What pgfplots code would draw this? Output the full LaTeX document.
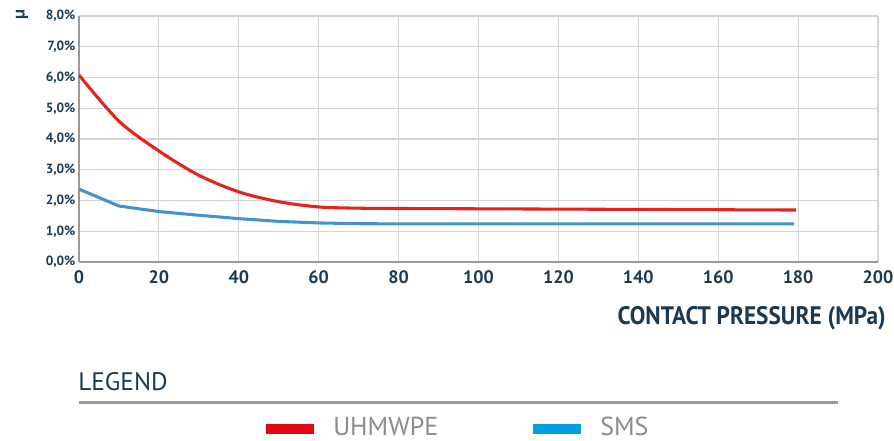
\documentclass[border=0pt]{standalone}
\usepackage{pgfplots}
\pgfplotsset{compat=1.18}
\usepackage{fontspec}
\setmainfont{PT Sans}
\newfontfamily\narrow[FakeStretch=0.92]{PT Sans}
\definecolor{navy}{HTML}{1B3A52}
\definecolor{gridgray}{HTML}{D4D4D4}
\definecolor{axisgray}{HTML}{9A9A9A}
\definecolor{lred}{HTML}{E5231B}
\definecolor{lblue}{HTML}{4593CC}
\definecolor{kred}{HTML}{E30613}
\definecolor{kblue}{HTML}{009FE3}
\definecolor{txtgray}{HTML}{8C8C8C}
\begin{document}
\begin{tikzpicture}[x=0.75pt,y=0.75pt]
\path[use as bounding box] (-79,-179) rectangle (815,262);
\begin{axis}[
    at={(0,0)}, anchor=origin,
    scale only axis,
    width=599.25pt, height=184.5pt,
    xmin=0, xmax=200, ymin=0, ymax=8,
    xtick={0,20,...,200}, ytick={0,1,...,8},
    axis x line=bottom, axis y line=left,
    axis line style={axisgray, line width=1pt, -},
    grid=major,
    major grid style={gridgray, line width=0.9pt},
    tick style={draw=none},
    /pgf/number format/assume math mode=true,
    x tick label style={font=\bfseries\fontsize{13.5}{13.5}\selectfont, text=navy, yshift=-0.5pt},
    y tick label style={font=\bfseries\fontsize{10}{10}\selectfont, text=navy, xshift=3pt},
    yticklabel={\pgfmathprintnumber[fixed, fixed zerofill, precision=1, use comma]{\tick}\%},
]
\addplot[lred, line width=2.3pt, smooth] coordinates {
    (0,6.08) (10,4.58) (20,3.61) (30,2.82) (40,2.28) (50,1.96) (60,1.79)
    (70,1.75) (80,1.74) (100,1.73) (120,1.72) (140,1.71) (160,1.70) (179.5,1.69)
};
\addplot[lblue, line width=2.3pt] coordinates {
    (0,2.37) (10,1.82) (20,1.64) (30,1.52) (40,1.41) (50,1.32) (60,1.27)
    (70,1.245) (80,1.24) (100,1.24) (120,1.24) (140,1.24) (160,1.24) (179,1.24)
};
\end{axis}
% axis symbol
\node[rotate=90, text=navy, font=\bfseries\fontsize{13}{13}\selectfont] at (-57,247) {μ};
% x axis title
\node[anchor=east, text=navy, font=\narrow\bfseries\fontsize{19}{20}\selectfont, inner sep=0pt] at (807,-56.5) {CONTACT PRESSURE (MPa)};
% legend
\node[anchor=west, text=navy, font=\fontsize{19}{20}\selectfont, inner sep=0pt] at (-1,-119.7) {LEGEND};
\draw[axisgray, line width=2.2pt] (0,-140.7) -- (759,-140.7);
\fill[kred] (187,-162) rectangle (235,-172.5);
\node[anchor=west, text=txtgray, font=\fontsize{19.5}{20}\selectfont, inner sep=0pt] at (254,-164.5) {UHMWPE};
\fill[kblue] (454,-162) rectangle (502,-172.5);
\node[anchor=west, text=txtgray, font=\fontsize{19.5}{20}\selectfont, inner sep=0pt] at (521,-164.5) {SMS};
\end{tikzpicture}
\end{document}
